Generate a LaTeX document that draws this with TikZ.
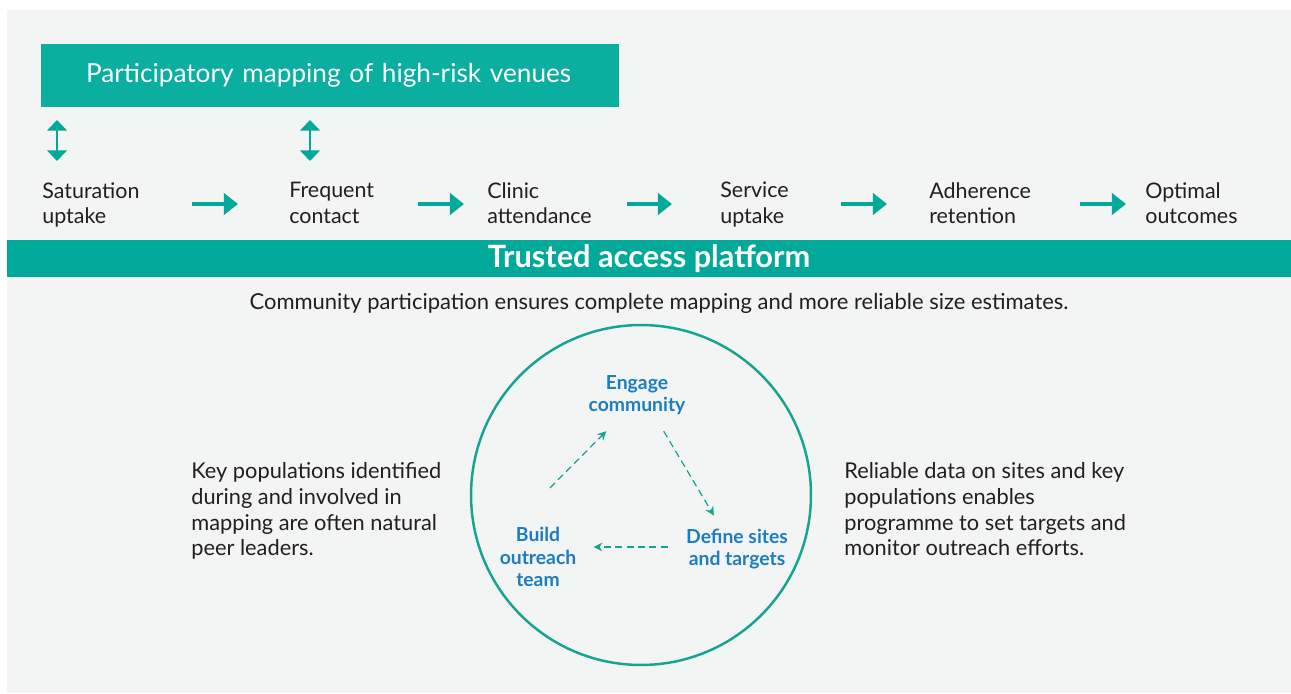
\documentclass[tikz,border=0pt]{standalone}
\usepackage{fontspec}
\setmainfont{Lato}
\usetikzlibrary{positioning,arrows.meta}

\definecolor{tealbox}{HTML}{0AAFA0}
\definecolor{tealband}{HTML}{00A99A}
\definecolor{cyclecol}{HTML}{14A592}
\definecolor{panelgrey}{HTML}{F3F4F4}
\definecolor{linkblue}{HTML}{1B7DC2}
\definecolor{inkgrey}{HTML}{231F20}

\tikzset{
	steptext/.style={anchor=north west,inner sep=0pt,align=left,text=inkgrey,font=\fontsize{12.2}{14.7}\selectfont},
	stepflow/.style={draw=tealband,line width=2.3pt,-{Triangle[length=8pt,width=12pt]}},
	linkarrow/.style={draw=tealband,line width=1.7pt,{Triangle[length=6pt,width=11pt]}-{Triangle[length=6pt,width=11pt]}},
	cyclabel/.style={inner sep=0pt,align=center,text=linkblue,font=\bfseries\fontsize{11}{12.8}\selectfont},
	cycflow/.style={draw=cyclecol,line width=0.7pt,dash pattern=on 4pt off 2.5pt,-{Stealth[length=5pt,width=5pt]}},
	notetext/.style={anchor=north west,inner sep=0pt,align=left,text=inkgrey,font=\fontsize{12.4}{14.7}\selectfont}
}

\begin{document}
\begin{tikzpicture}[x=0.02cm,y=-0.02cm]
		\useasboundingbox (0,0) rectangle (1291,693);
		\fill[panelgrey](7,10) rectangle (1291,693);
		
		% mapping box and links
		\node[fill=tealbox,text=white,inner xsep=0.9cm,text width=9.76cm,align=left,minimum height=1.26cm,font=\fontsize{14.9}{17}\selectfont] (mapping) at (330,75.5) {Participatory mapping of high-risk venues};
		\foreach \x [count=\i] in{57,310}{
			\coordinate (lk\i a) at (\x,120);
			\coordinate (lk\i b) at (\x,161);
			\draw[linkarrow](lk\i a)--(lk\i b);
		}
		
		% steps
		\node[steptext] (sat) at (42,182) {Saturation\\uptake};
		\node[steptext] (freq) at (289,182) {Frequent\\contact};
		\node[steptext] (clinic) at (487,182) {Clinic\\attendance};
		\node[steptext] (service) at (720,182) {Service\\uptake};
		\node[steptext] (adher) at (929,182) {Adherence\\retention};
		\node[steptext] (optimal) at (1145,182) {Optimal\\outcomes};
		\foreach \a/\b [count=\i] in{192/238,418/464,627/672,841/887,1080/1126}{
			\coordinate (fs\i) at (\a,204);
			\coordinate (fe\i) at (\b,204);
			\draw[stepflow](fs\i)--(fe\i);
		}
		
		% platform
		\node[fill=tealband,text=white,minimum width=25.68cm,minimum height=0.74cm,inner sep=0pt,font=\bfseries\fontsize{17.5}{19}\selectfont] (platform) at (649,258.5) {Trusted access platform};
		\node[text=inkgrey,inner sep=0pt,font=\fontsize{12.5}{15}\selectfont] (summary) at (659,303) {Community participation ensures complete mapping and more reliable size estimates.};
		
		% cycle
		\node[draw=cyclecol,circle,line width=1.4pt,minimum size=6.8cm,inner sep=0pt] (ring) at (641,495) {};
		\node[cyclabel] (engage) at (637,395) {Engage\\community};
		\node[cyclabel] (define) at (737,549) {Define sites\\and targets};
		\node[cyclabel] (build) at (538,557) {Build\\outreach\\team};
		\draw[cycflow]([shift={(12,-39)}]build.north)--([shift={(18,16)}]engage.south west);
		\draw[cycflow]([shift={(-22,16)}]engage.south east)--([shift={(28,-13)}]define.north west);
		\draw[cycflow]([shift={(-18,-2)}]define.west)--([shift={(17,-10)}]build.east);
		
		% side notes
		\node[notetext] (leftnote) at (191,462) {Key populations identified\\during and involved in\\mapping are often natural\\peer leaders.};
		\node[notetext] (rightnote) at (844,462) {Reliable data on sites and key\\populations enables\\programme to set targets and\\monitor outreach efforts.};
	\end{tikzpicture}
\end{document}
